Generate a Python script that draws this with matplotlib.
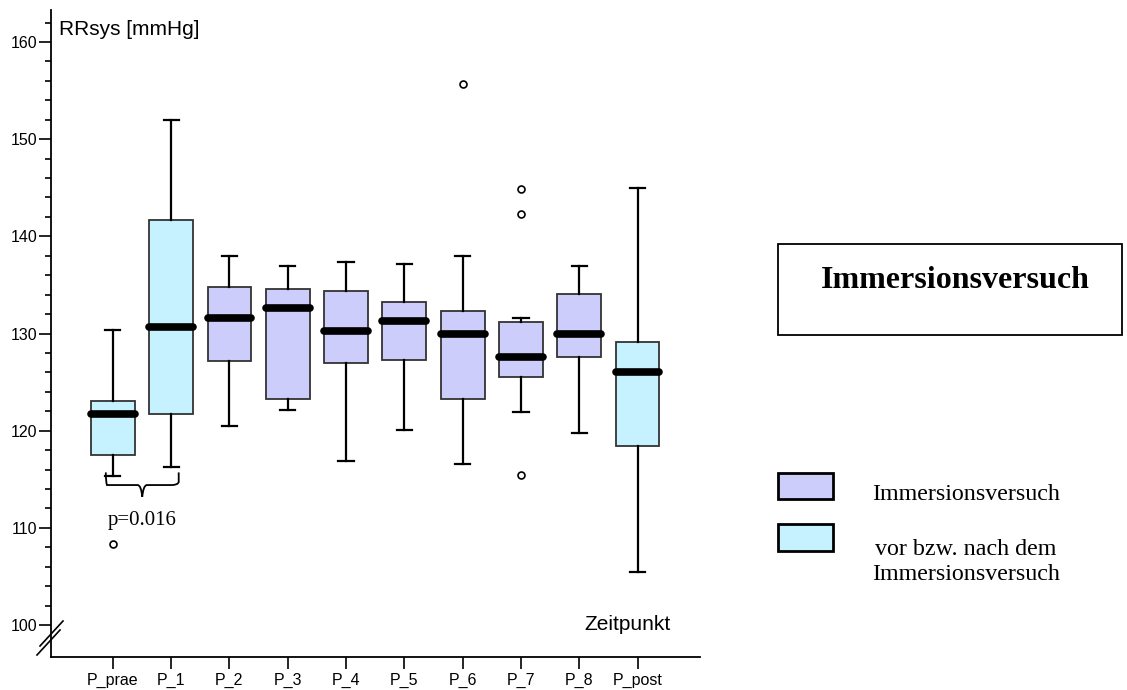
import matplotlib
matplotlib.use("Agg")
import matplotlib.pyplot as plt
from matplotlib.patches import Rectangle, PathPatch
from matplotlib.path import Path
import numpy as np

# ---- data ----
labels = ['P_prae', 'P_1', 'P_2', 'P_3', 'P_4', 'P_5', 'P_6', 'P_7', 'P_8', 'P_post']
whislo = [115.3, 116.3, 120.5, 122.1, 116.9, 120.1, 116.6, 121.9, 119.8, 105.4]
q1 = [117.5, 121.7, 127.2, 123.3, 127.0, 127.3, 123.3, 125.5, 127.6, 118.4]
med = [121.7, 130.7, 131.6, 132.6, 130.3, 131.3, 129.9, 127.6, 129.9, 126.0]
q3 = [123.1, 141.7, 134.8, 134.6, 134.4, 133.2, 132.3, 131.2, 134.1, 129.1]
whishi = [130.4, 152.0, 138.0, 136.9, 137.4, 137.2, 138.0, 131.6, 136.9, 145.0]
fliers = [[108.3], [], [], [], [], [], [155.7], [115.4, 142.3, 144.9], [], []]
group = ['vor', 'vor', 'imm', 'imm', 'imm', 'imm', 'imm', 'imm', 'imm', 'vor']

COL = {'imm': '#cdcdfb', 'vor': '#c6f2ff'}
W, H = 1127, 690

fig = plt.figure(figsize=(W / 100, H / 100), dpi=100)
ax = fig.add_axes([51 / W, 33 / H, (700 - 51) / W, (657 - 10) / H])

stats = []
for i in range(len(labels)):
    stats.append(dict(label=labels[i], whislo=whislo[i], q1=q1[i], med=med[i],
                      q3=q3[i], whishi=whishi[i], fliers=fliers[i]))

pos = np.arange(len(labels))
bp = ax.bxp(stats, positions=pos, widths=0.75, capwidths=0.26, patch_artist=True,
            boxprops=dict(edgecolor='#333333', linewidth=1.3),
            whiskerprops=dict(color='black', linewidth=1.6),
            capprops=dict(color='black', linewidth=1.6),
            medianprops=dict(color='black', linewidth=5.5, solid_capstyle='round'),
            flierprops=dict(marker='o', markersize=5, markerfacecolor='white',
                            markeredgecolor='black', markeredgewidth=1.2))
for patch, g in zip(bp['boxes'], group):
    patch.set_facecolor(COL[g])

ax.set_xlim(-1.06, 10.07)
ax.set_ylim(96.7, 163.3)
for s in ['top', 'right']:
    ax.spines[s].set_visible(False)
for s in ['left', 'bottom']:
    ax.spines[s].set_linewidth(1.3)

ax.set_xticks(pos)
ax.set_xticklabels(labels, fontfamily='Liberation Sans', fontsize=11.5)
ax.set_yticks(np.arange(100, 161, 10))
ax.set_yticklabels([str(v) for v in range(100, 161, 10)], fontfamily='Liberation Sans', fontsize=11.5)
ax.set_yticks(np.arange(100, 163, 2), minor=True)
ax.tick_params(axis='y', which='major', length=9, width=1.2, pad=1)
ax.tick_params(axis='y', which='minor', length=4.5, width=1.2)
ax.tick_params(axis='x', length=8.5, width=1.2, pad=3)

ax.text(0.012, 0.985, 'RRsys [mmHg]', transform=ax.transAxes, fontfamily='Liberation Sans',
        fontsize=15, va='top', ha='left')
ax.text(0.955, 0.035, 'Zeitpunkt', transform=ax.transAxes, fontfamily='Liberation Sans',
        fontsize=15, va='bottom', ha='right')

# axis break marks (figure pixels)
ax.plot([37 / W, 60 / W], [1 - 655 / H, 1 - 630 / H], transform=fig.transFigure,
        color='black', lw=1.2, clip_on=False)
ax.plot([40 / W, 63 / W], [1 - 646 / H, 1 - 621 / H], transform=fig.transFigure,
        color='black', lw=1.2, clip_on=False)

# brace between P_prae and P_1
x0, x1 = pos[0] - 0.12, pos[1] + 0.13
xm = (x0 + x1) / 2
yt, yb, ytip = 115.7, 114.4, 113.2
verts = [(x0, yt), (x0, yb + 0.3), (x0 + 0.02, yb), (x0 + 0.12, yb),
         (xm - 0.08, yb), (xm - 0.02, yb), (xm, ytip), (xm + 0.02, yb), (xm + 0.08, yb),
         (x1 - 0.12, yb), (x1 - 0.02, yb), (x1, yb + 0.3), (x1, yt)]
codes = [Path.MOVETO, Path.CURVE3, Path.CURVE3, Path.LINETO,
         Path.LINETO, Path.CURVE3, Path.CURVE3, Path.CURVE3, Path.CURVE3,
         Path.LINETO, Path.CURVE3, Path.CURVE3, Path.LINETO]
ax.add_patch(PathPatch(Path(verts, codes), facecolor='none', edgecolor='black', lw=1.3))
ax.text(xm, 110.8, 'p=0.016', ha='center', va='center', fontfamily='Liberation Serif', fontsize=15)

# right panel
fig.patches.append(Rectangle((778 / W, 1 - 335 / H), (1122 - 778) / W, (335 - 244) / H,
                             transform=fig.transFigure, facecolor='white', edgecolor='black', lw=1.3))
fig.text(955 / W, 1 - 280 / H, 'Immersionsversuch', ha='center', va='center',
         fontfamily='Liberation Serif', fontweight='bold', fontsize=23)

fig.patches.append(Rectangle((778 / W, 1 - 499 / H), 55 / W, 26 / H, transform=fig.transFigure,
                             facecolor=COL['imm'], edgecolor='black', lw=2))
fig.patches.append(Rectangle((778 / W, 1 - 551 / H), 55 / W, 27 / H, transform=fig.transFigure,
                             facecolor=COL['vor'], edgecolor='black', lw=2))
fig.text(966 / W, 1 - 494 / H, 'Immersionsversuch', ha='center', va='center',
         fontfamily='Liberation Serif', fontsize=17.3)
fig.text(966 / W, 1 - 562 / H, 'vor bzw. nach dem\nImmersionsversuch', ha='center', va='center',
         fontfamily='Liberation Serif', fontsize=17.3, linespacing=1.2)

fig.savefig('out.png', dpi=100)
